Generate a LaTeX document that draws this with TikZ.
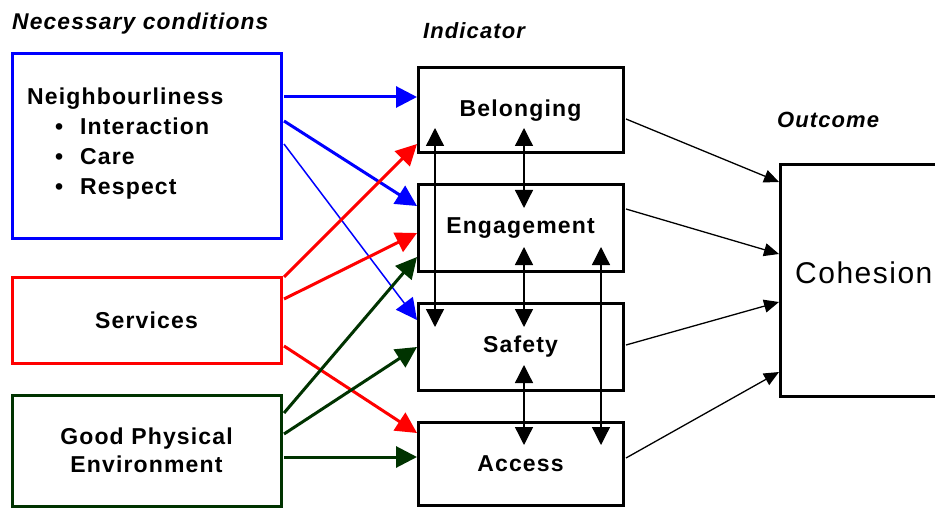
\documentclass[tikz,border=0pt]{standalone}
\usepackage{fontspec}
\setmainfont[LetterSpace=5]{Liberation Sans}
\usetikzlibrary{arrows.meta,calc}
\definecolor{cblue}{RGB}{0,0,255}
\definecolor{cred}{RGB}{255,0,0}
\definecolor{cgreen}{RGB}{0,51,0}
\tikzset{
  box/.style={draw, line width=3pt, outer sep=0pt, inner sep=0pt, align=center,
    font=\fontsize{23}{28}\selectfont\bfseries},
  head/.style={anchor=base west, inner sep=0pt, font=\fontsize{22}{26}\selectfont\bfseries\itshape},
  itemtext/.style={anchor=base west, inner sep=0pt, font=\fontsize{23}{28}\selectfont\bfseries},
  carrow/.style={line width=3pt, -{Triangle[length=21pt,width=21pt]}},
  thinarrow/.style={line width=1.5pt, -{Triangle[length=21pt,width=21pt]}},
  varrow/.style={line width=1.3pt, {Triangle[length=18pt,width=18pt]}-{Triangle[length=18pt,width=18pt]}},
  oarrow/.style={line width=1.3pt, -{Triangle[length=15pt,width=13pt]}}
}
\begin{document}
\begin{tikzpicture}[x=1pt,y=-1pt]
\path[use as bounding box] (0,0) rectangle (935,508);
\clip (0,0) rectangle (935,508);
\fill[white] (0,0) rectangle (935,508);

% headings
\node[head, font=\fontsize{22.8}{26}\selectfont\bfseries\itshape] (hnec) at (12,30) {Necessary conditions};
\node[head] (hind) at (423,39) {Indicator};
\node[head] (hout) at (777,128) {Outcome};

% left column
\node[box, draw=cblue, minimum width=269pt, minimum height=184pt] (neigh) at (146.5,146) {};
\node[itemtext] (tneigh) at (27,105) {Neighbourliness};
\node[itemtext] (tint) at (55,135) {\makebox[25pt][l]{\textbullet}Interaction};
\node[itemtext] (tcare) at (55,165) {\makebox[25pt][l]{\textbullet}Care};
\node[itemtext] (tresp) at (55,195) {\makebox[25pt][l]{\textbullet}Respect};

\node[box, draw=cred, minimum width=269pt, minimum height=86pt] (serv) at (146.5,320) {Services};
\node[box, draw=cgreen, minimum width=269pt, minimum height=111pt] (gpe) at (146.5,450.5) {Good Physical\\Environment};

% indicators
\node[box, minimum width=205pt, minimum height=85pt] (bel) at (520.5,110.5) {Belonging};
\node[box, minimum width=205pt, minimum height=86pt] (eng) at (520.5,228) {Engagement};
\node[box, minimum width=205pt, minimum height=87pt] (saf) at (520.5,346.5) {Safety};
\node[box, minimum width=205pt, minimum height=83pt] (acc) at (520.5,463.5) {Access};

% outcome
\node[box, minimum width=170pt, minimum height=231pt] (coh) at (865,280.5) {};
\node[anchor=base west, inner sep=0pt, font=\fontsize{30}{34}\selectfont] (tcoh) at (795,283) {Cohesion};

% blue arrows
\draw[carrow, cblue] ($(neigh.north east)+(3,43)$) -- ($(bel.north west)+(-1,29)$);
\draw[carrow, cblue] ($(neigh.north east)+(3,67)$) -- ($(eng.north west)+(-1,21)$);
\draw[thinarrow, cblue] ($(neigh.north east)+(3,90)$) -- ($(saf.north west)+(-1,17)$);

% red arrows
\draw[carrow, cred] ($(serv.north east)+(3,0)$) -- ($(bel.south west)+(-1,-9)$);
\draw[carrow, cred] ($(serv.north east)+(3,22)$) -- ($(eng.north west)+(-1,48)$);
\draw[carrow, cred] ($(serv.north east)+(3,69)$) -- ($(acc.north west)+(-1,11)$);

% green arrows
\draw[carrow, cgreen] ($(gpe.north east)+(3,18)$) -- ($(eng.south west)+(-1,-14)$);
\draw[carrow, cgreen] ($(gpe.north east)+(3,39)$) -- ($(saf.north west)+(-1,44)$);
\draw[carrow, cgreen] ($(gpe.north east)+(3,62)$) -- ($(acc.north west)+(-1,35)$);

% vertical double arrows
\draw[varrow] ($(bel.south west)+(17,-25)$) -- ($(saf.north west)+(17,24)$);
\draw[varrow] ($(bel.south west)+(106,-25)$) -- ($(eng.north west)+(106,23)$);
\draw[varrow] ($(eng.south west)+(106,-24)$) -- ($(saf.north west)+(106,24)$);
\draw[varrow] ($(saf.south west)+(106,-25)$) -- ($(acc.north west)+(106,23)$);
\draw[varrow] ($(eng.south west)+(183,-24)$) -- ($(acc.north west)+(183,23)$);

% outcome arrows
\draw[oarrow] ($(bel.north east)+(3,51)$) -- ($(coh.north west)+(-1,17)$);
\draw[oarrow] ($(eng.north east)+(3,24)$) -- ($(coh.north west)+(-1,89)$);
\draw[oarrow] ($(saf.north east)+(3,42)$) -- ($(coh.north west)+(-1,137)$);
\draw[oarrow] ($(acc.north east)+(3,36)$) -- ($(coh.north west)+(-1,207)$);
\end{tikzpicture}
\end{document}
